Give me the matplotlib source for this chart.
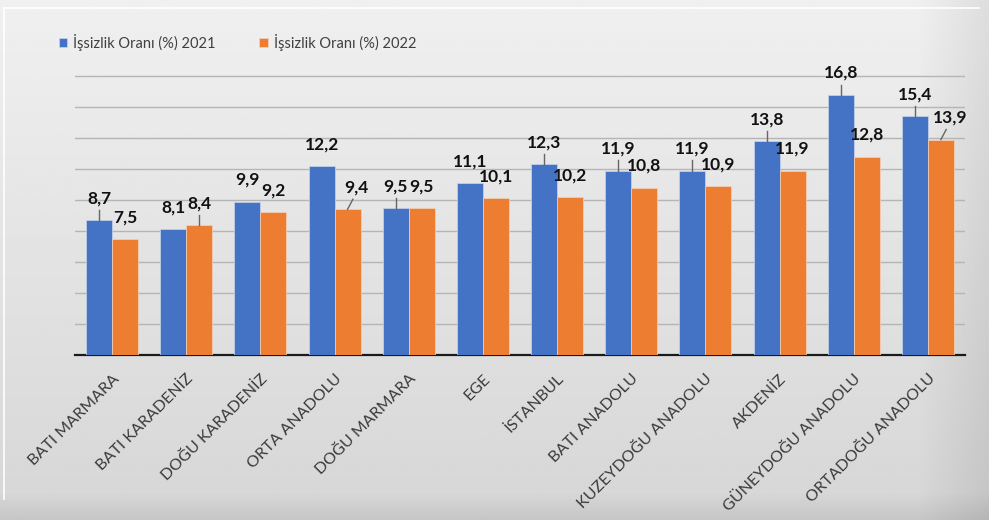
import matplotlib.pyplot as plt
import numpy as np

regions = ["BATI MARMARA", "BATI KARADENİZ", "DOĞU KARADENİZ", "ORTA ANADOLU",
           "DOĞU MARMARA", "EGE", "İSTANBUL", "BATI ANADOLU", "KUZEYDOĞU ANADOLU",
           "AKDENİZ", "GÜNEYDOĞU ANADOLU", "ORTADOĞU ANADOLU"]
rate_2021 = [8.7, 8.1, 9.9, 12.2, 9.5, 11.1, 12.3, 11.9, 11.9, 13.8, 16.8, 15.4]
rate_2022 = [7.5, 8.4, 9.2, 9.4, 9.5, 10.1, 10.2, 10.8, 10.9, 11.9, 12.8, 13.9]
series_names = ["İşsizlik Oranı (%) 2021", "İşsizlik Oranı (%) 2022"]

blue = "#4472C4"
orange = "#ED7D31"
plt.rcParams['font.family'] = ['Lato', 'DejaVu Sans']

fig = plt.figure(figsize=(9.89, 5.2), dpi=100)

# grey card background, lighter at the top
bg = fig.add_axes([0, 0, 1, 1], zorder=-10)
yy = np.linspace(0, 1, 200)[:, None]
xx = np.linspace(0, 1, 400)[None, :]
shade = 0.94 - 0.10 * yy - 0.07 * np.clip((xx - 0.93) / 0.07, 0, 1) \
        - 0.06 * np.clip((yy - 0.95) / 0.05, 0, 1)
bg.imshow(shade, cmap='gray', vmin=0, vmax=1, aspect='auto',
          extent=[0, 1, 0, 1], origin='upper')
bg.plot([0.004, 0.004], [0.04, 0.985], color='white', lw=1.2)
bg.plot([0.004, 0.99], [0.985, 0.985], color='white', lw=1.2)
bg.set_xlim(0, 1)
bg.set_ylim(0, 1)
bg.axis('off')

ax = fig.add_axes([75 / 989, 165 / 520, 890 / 989, 310 / 520])
ax.patch.set_alpha(0)

x = np.arange(len(regions))
w = 0.35
b1 = ax.bar(x - w / 2, rate_2021, w, color=blue, edgecolor='#c9d5ec', lw=0.5,
            label=series_names[0], zorder=3)
b2 = ax.bar(x + w / 2, rate_2022, w, color=orange, edgecolor='#f3d3bd', lw=0.5,
            label=series_names[1], zorder=3)

ax.set_xlim(-0.5, 11.5)
ax.set_ylim(0, 20)
ax.set_yticks(np.arange(2, 20, 2))
ax.yaxis.grid(True, color='#b5b5b5', lw=1.0, zorder=0)
ax.tick_params(axis='y', length=0, labelleft=False)
ax.tick_params(axis='x', length=0, pad=12)
for s in ['top', 'right', 'left']:
    ax.spines[s].set_visible(False)
ax.spines['bottom'].set_color('#1a1a1a')
ax.spines['bottom'].set_linewidth(1.6)
ax.set_xticks(x)
ax.set_xticklabels(regions, rotation=45, ha='right', rotation_mode='anchor',
                   fontsize=11.5, color='#3a3a3a')

# value labels; some are joined to their bar by a short leader line
leaders_2021 = {0, 4, 6, 7, 8, 9, 10, 11}
leaders_2022 = {1, 3, 11}
for vals, off, leaders in [(rate_2021, -w / 2, leaders_2021),
                           (rate_2022, w / 2, leaders_2022)]:
    for i, v in enumerate(vals):
        dx = 0
        if (off > 0 and i in (3, 11)):
            dx = 0.12
        lbl = f"{v:.1f}".replace('.', ',')
        ax.annotate(lbl, xy=(i + off, v), xytext=(i + off + dx, v + 1.4),
                    ha='center', va='center', fontsize=12.5, fontweight='bold',
                    color='#111111', zorder=5)
        if i in leaders:
            ax.plot([i + off, i + off + dx * 0.6], [v, v + 0.65],
                    color='#666666', lw=1.0, zorder=4)

fig.legend(handles=[b1, b2], labels=series_names, loc='upper left',
           bbox_to_anchor=(0.046, 0.96), ncol=2, frameon=False, fontsize=10.5,
           handlelength=0.6, handleheight=0.6, handletextpad=0.4,
           columnspacing=3.0, labelcolor='#404040')

fig.savefig('out.png', dpi=100)
